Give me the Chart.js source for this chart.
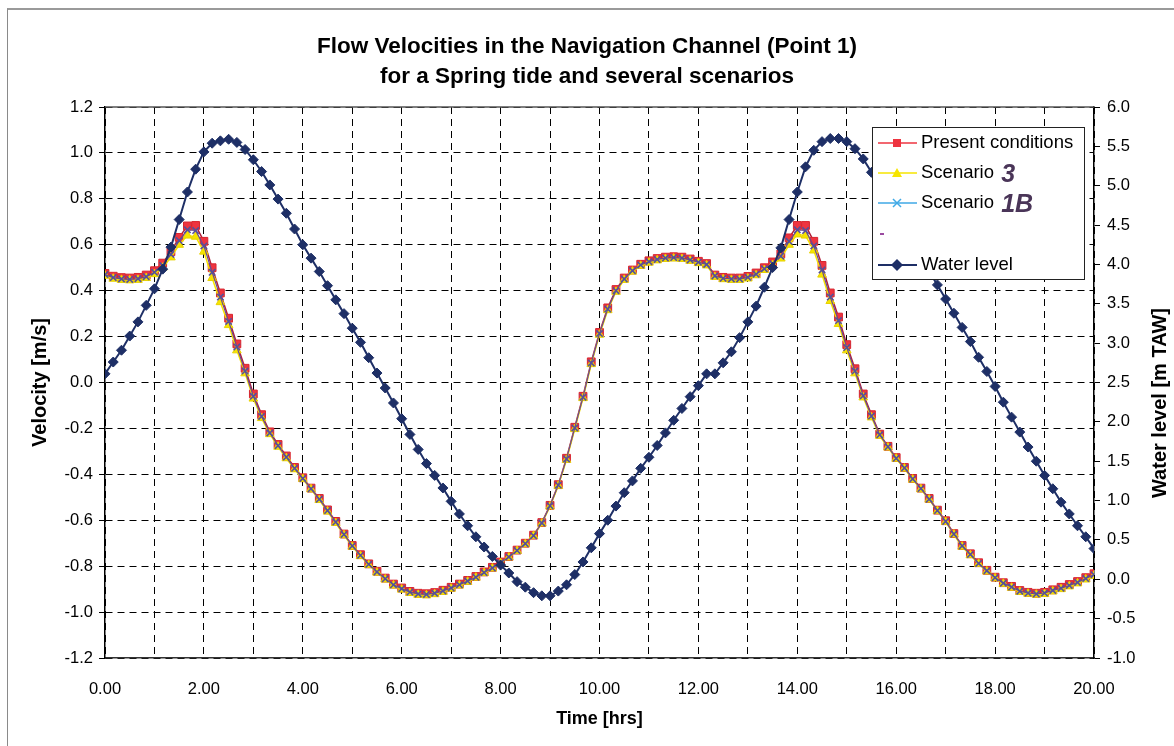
<!DOCTYPE html>
<html>
<head>
<meta charset="utf-8">
<script src="https://cdn.jsdelivr.net/npm/chart.js@4.4.1/dist/chart.umd.min.js"></script>
<style>
  html, body { margin: 0; padding: 0; background: #fff; overflow: hidden; }
  #wrap { position: relative; width: 1174px; height: 746px; }
  #frame { position: absolute; left: 7px; top: 8px; width: 1300px; height: 900px; border-left: 1px solid #8a8a8a; border-top: 2px solid #9a9a9a; pointer-events: none; }
  canvas { position: absolute; left: 0; top: 0; }
</style>
</head>
<body>
<div id="wrap">
  <canvas id="c" width="1174" height="746"></canvas>
  <div id="frame"></div>
</div>
<script>
// Sample times in minutes (10-minute interval)
const minutes = [0,10,20,30,40,50,60,70,80,90,100,110,120,130,140,150,160,170,180,190,
200,210,220,230,240,250,260,270,280,290,300,310,320,330,340,350,360,370,380,390,
400,410,420,430,440,450,460,470,480,490,500,510,520,530,540,550,560,570,580,590,
600,610,620,630,640,650,660,670,680,690,700,710,720,730,740,750,760,770,780,790,
800,810,820,830,840,850,860,870,880,890,900,910,920,930,940,950,960,970,980,990,
1000,1010,1020,1030,1040,1050,1060,1070,1080,1090,1100,1110,1120,1130,1140,1150,1160,1170,1180,1190,
1200];

// Velocity [m/s] - Present conditions
const presentConditions = [
0.475,0.463,0.457,0.455,0.458,0.468,0.487,0.52,0.57,0.632,
0.682,0.684,0.615,0.50,0.39,0.28,0.168,0.062,-0.05,-0.14,
-0.215,-0.27,-0.32,-0.37,-0.415,-0.46,-0.505,-0.555,-0.605,-0.66,
-0.71,-0.75,-0.79,-0.822,-0.852,-0.878,-0.895,-0.91,-0.918,-0.92,
-0.915,-0.905,-0.892,-0.878,-0.862,-0.845,-0.825,-0.805,-0.782,-0.758,
-0.73,-0.70,-0.665,-0.61,-0.535,-0.445,-0.33,-0.195,-0.06,0.09,
0.218,0.325,0.405,0.455,0.49,0.515,0.53,0.54,0.546,0.548,
0.546,0.538,0.528,0.518,0.468,0.458,0.455,0.455,0.462,0.477,
0.50,0.525,0.56,0.63,0.684,0.684,0.615,0.51,0.39,0.285,
0.165,0.06,-0.05,-0.14,-0.225,-0.278,-0.327,-0.37,-0.418,-0.46,
-0.505,-0.556,-0.602,-0.658,-0.71,-0.746,-0.785,-0.818,-0.848,-0.872,
-0.888,-0.906,-0.914,-0.918,-0.914,-0.903,-0.892,-0.88,-0.867,-0.85,
-0.833];

// Velocity [m/s] - Scenario 3
const scenario3 = [
0.465,0.452,0.447,0.445,0.447,0.455,0.472,0.50,0.545,0.60,
0.64,0.635,0.57,0.455,0.35,0.25,0.14,0.04,-0.07,-0.155,
-0.225,-0.28,-0.33,-0.378,-0.42,-0.465,-0.512,-0.562,-0.612,-0.665,
-0.715,-0.756,-0.795,-0.828,-0.858,-0.884,-0.902,-0.917,-0.925,-0.927,
-0.922,-0.912,-0.898,-0.884,-0.868,-0.85,-0.83,-0.81,-0.787,-0.762,
-0.734,-0.704,-0.668,-0.614,-0.54,-0.45,-0.337,-0.203,-0.068,0.08,
0.208,0.315,0.395,0.447,0.483,0.508,0.522,0.532,0.538,0.54,
0.538,0.53,0.52,0.51,0.46,0.45,0.447,0.447,0.453,0.467,
0.49,0.512,0.54,0.6,0.645,0.64,0.575,0.47,0.355,0.255,
0.14,0.04,-0.065,-0.152,-0.232,-0.283,-0.332,-0.375,-0.423,-0.465,
-0.51,-0.56,-0.607,-0.662,-0.715,-0.752,-0.79,-0.823,-0.853,-0.877,
-0.894,-0.912,-0.92,-0.924,-0.921,-0.91,-0.9,-0.888,-0.875,-0.858,
-0.842];

// Velocity [m/s] - Scenario 1B
const scenario1B = [
0.47,0.457,0.451,0.449,0.452,0.461,0.48,0.51,0.558,0.618,
0.665,0.662,0.595,0.48,0.372,0.266,0.155,0.05,-0.06,-0.148,
-0.22,-0.275,-0.325,-0.374,-0.418,-0.463,-0.508,-0.558,-0.608,-0.662,
-0.712,-0.753,-0.792,-0.825,-0.855,-0.881,-0.898,-0.913,-0.921,-0.923,
-0.918,-0.908,-0.895,-0.881,-0.865,-0.848,-0.828,-0.808,-0.785,-0.76,
-0.732,-0.702,-0.667,-0.612,-0.537,-0.447,-0.333,-0.198,-0.064,0.085,
0.213,0.32,0.4,0.451,0.487,0.512,0.526,0.536,0.542,0.544,
0.542,0.534,0.524,0.514,0.464,0.454,0.451,0.451,0.458,0.472,
0.495,0.518,0.55,0.615,0.665,0.662,0.595,0.49,0.372,0.27,
0.152,0.05,-0.058,-0.146,-0.228,-0.28,-0.33,-0.372,-0.42,-0.462,
-0.508,-0.558,-0.605,-0.66,-0.712,-0.749,-0.788,-0.82,-0.85,-0.874,
-0.891,-0.909,-0.917,-0.921,-0.917,-0.906,-0.896,-0.884,-0.871,-0.854,
-0.837];

// Water level [m TAW]
const waterLevel = [
2.61,2.76,2.91,3.09,3.27,3.48,3.69,3.94,4.22,4.57,
4.92,5.21,5.43,5.54,5.57,5.59,5.55,5.46,5.33,5.18,
5.01,4.83,4.65,4.45,4.25,4.08,3.91,3.73,3.55,3.375,
3.19,3.01,2.815,2.62,2.43,2.24,2.04,1.84,1.65,1.47,
1.32,1.16,0.99,0.83,0.68,0.54,0.41,0.29,0.18,0.08,
-0.03,-0.10,-0.17,-0.21,-0.21,-0.15,-0.07,0.06,0.22,0.40,
0.58,0.75,0.93,1.10,1.25,1.41,1.55,1.70,1.86,2.02,
2.17,2.32,2.46,2.61,2.61,2.75,2.89,3.07,3.27,3.47,
3.71,3.96,4.21,4.57,4.92,5.24,5.45,5.56,5.60,5.60,
5.56,5.47,5.34,5.17,4.99,4.81,4.62,4.43,4.25,4.08,
3.91,3.74,3.56,3.38,3.20,3.02,2.82,2.64,2.45,2.25,
2.06,1.87,1.68,1.50,1.32,1.15,0.98,0.83,0.68,0.54,
0.39];

const titleLines = ['Flow Velocities in the Navigation Channel (Point 1)', 'for a Spring tide and several scenarios'];
const xTitle = 'Time [hrs]';
const yTitle = 'Velocity [m/s]';
const y1Title = 'Water level [m TAW]';
const seriesNames = ['Present conditions', 'Scenario', 'Scenario', 'Water level'];
const handNotes = ['', '3', '1B', ''];

const FONT = "'Liberation Sans', Arial, sans-serif";
const hrs = minutes.map(m => m / 60);
const pts = arr => arr.map((v, i) => ({x: hrs[i], y: v}));

const COL = {
  red: '#EE3440', redB: '#D8262F',
  yel: '#F6E500', yelB: '#E8D200',
  blue: '#3FA9E6', cross: '#56509A',
  navy: '#1E2F66'
};

const legendPlugin = {
  id: 'customLegend',
  afterDraw(chart) {
    const ctx = chart.ctx;
    const bx = 872, by = 127, bw = 212, bh = 152;
    ctx.save();
    ctx.fillStyle = '#fff';
    ctx.fillRect(bx, by, bw, bh);
    ctx.strokeStyle = '#222';
    ctx.lineWidth = 1;
    ctx.strokeRect(bx + 0.5, by + 0.5, bw, bh);
    const rows = [
      {y: 143, name: seriesNames[0], note: handNotes[0], line: COL.red, type: 'rect'},
      {y: 173, name: seriesNames[1], note: handNotes[1], line: COL.yel, type: 'tri'},
      {y: 203, name: seriesNames[2], note: handNotes[2], line: COL.blue, type: 'cross'},
      {y: 265, name: seriesNames[3], note: handNotes[3], line: COL.navy, type: 'dia'}
    ];
    const x0 = 878, x1 = 917, xm = 897;
    rows.forEach(r => {
      ctx.strokeStyle = r.line;
      ctx.lineWidth = r.type === 'dia' ? 2 : 1.5;
      ctx.beginPath(); ctx.moveTo(x0, r.y); ctx.lineTo(x1, r.y); ctx.stroke();
      ctx.beginPath();
      if (r.type === 'rect') {
        ctx.fillStyle = COL.red; ctx.fillRect(xm - 4, r.y - 4, 8, 8);
      } else if (r.type === 'tri') {
        ctx.fillStyle = COL.yel; ctx.moveTo(xm, r.y - 5); ctx.lineTo(xm + 5, r.y + 4); ctx.lineTo(xm - 5, r.y + 4); ctx.closePath(); ctx.fill();
      } else if (r.type === 'cross') {
        ctx.strokeStyle = COL.blue; ctx.lineWidth = 1.5;
        ctx.moveTo(xm - 4, r.y - 4); ctx.lineTo(xm + 4, r.y + 4); ctx.moveTo(xm + 4, r.y - 4); ctx.lineTo(xm - 4, r.y + 4); ctx.stroke();
      } else {
        ctx.fillStyle = COL.navy; ctx.moveTo(xm, r.y - 6); ctx.lineTo(xm + 6, r.y); ctx.lineTo(xm, r.y + 6); ctx.lineTo(xm - 6, r.y); ctx.closePath(); ctx.fill();
      }
      ctx.fillStyle = '#000';
      ctx.font = '18.5px ' + FONT;
      ctx.textBaseline = 'middle';
      ctx.textAlign = 'left';
      ctx.fillText(r.name, 921, r.y);
      if (r.note) {
        const w = ctx.measureText(r.name + ' ').width;
        ctx.fillStyle = '#4A3558';
        ctx.font = 'italic bold 25px ' + FONT;
        ctx.fillText(r.note, 921 + w + 2, r.y + 2);
      }
    });
    // small mark of the empty 4th legend entry
    ctx.fillStyle = '#9a4aa0';
    ctx.fillRect(880, 233, 4, 2);
    ctx.restore();
  }
};

const framePlugin = {
  id: 'plotFrame',
  afterDraw(chart) {
    const {ctx, chartArea: a} = chart;
    ctx.save();
    ctx.strokeStyle = '#555';
    ctx.lineWidth = 1.5;
    ctx.beginPath(); ctx.moveTo(a.left, a.top); ctx.lineTo(a.right, a.top); ctx.stroke();
    // secondary axis title (rotated like the primary one)
    ctx.fillStyle = '#000';
    ctx.font = 'bold 20px ' + FONT;
    ctx.textAlign = 'center';
    ctx.textBaseline = 'middle';
    ctx.translate(1160, 403);
    ctx.rotate(-Math.PI / 2);
    ctx.fillText(y1Title, 0, 0);
    ctx.restore();
  }
};

new Chart(document.getElementById('c'), {
  type: 'line',
  data: {
    datasets: [
      {label: seriesNames[3], data: pts(waterLevel), yAxisID: 'y1', borderColor: COL.navy, backgroundColor: COL.navy,
       borderWidth: 2, pointStyle: 'rectRot', pointRadius: 5, pointBackgroundColor: COL.navy, pointBorderColor: COL.navy, pointBorderWidth: 1, tension: 0},
      {label: seriesNames[2] + ' ' + handNotes[2], data: pts(scenario1B), yAxisID: 'y', borderColor: '#6A4A8E', backgroundColor: COL.blue,
       borderWidth: 1.2, pointStyle: 'crossRot', pointRadius: 4.5, pointBorderColor: COL.cross, pointBorderWidth: 1.6, tension: 0},
      {label: seriesNames[1] + ' ' + handNotes[1], data: pts(scenario3), yAxisID: 'y', borderColor: COL.yel, backgroundColor: COL.yel,
       borderWidth: 1.5, pointStyle: 'triangle', pointRadius: 5, pointBackgroundColor: COL.yel, pointBorderColor: COL.yelB, pointBorderWidth: 1, tension: 0},
      {label: seriesNames[0], data: pts(presentConditions), yAxisID: 'y', borderColor: '#B0203A', backgroundColor: COL.red,
       borderWidth: 1.5, pointStyle: 'rect', pointRadius: 5.5, pointBackgroundColor: COL.red, pointBorderColor: COL.redB, pointBorderWidth: 1, tension: 0}
    ]
  },
  options: {
    responsive: false,
    animation: false,
    devicePixelRatio: 1,
    layout: {padding: 0},
    plugins: {
      legend: {display: false},
      tooltip: {enabled: false},
      title: {
        display: true,
        text: titleLines,
        color: '#000',
        font: {family: FONT, size: 22.5, weight: 'bold', lineHeight: 1.3},
        padding: {top: 32.5, bottom: 16}
      }
    },
    scales: {
      x: {
        type: 'linear', min: 0, max: 20,
        afterFit: s => { s.height = 88; },
        ticks: {stepSize: 1, autoSkip: false, maxRotation: 0, color: '#000', padding: 22,
          font: {family: FONT, size: 16.5},
          callback: v => (Math.round(v) % 2 === 0 ? Number(v).toFixed(2) : '')},
        grid: {color: '#000', lineWidth: 1, drawTicks: false},
        border: {display: true, color: '#333', width: 1.5, dash: [7, 5]},
        title: {display: true, text: xTitle, color: '#000', font: {family: FONT, size: 18, weight: 'bold'}, padding: {top: 0, bottom: 16}}
      },
      y: {
        type: 'linear', position: 'left', min: -1.2, max: 1.2,
        afterFit: s => { s.width = 105; },
        ticks: {stepSize: 0.2, color: '#000', padding: 6, font: {family: FONT, size: 16.5},
          callback: v => Number(v).toFixed(1)},
        grid: {color: '#000', lineWidth: 1, drawTicks: true, tickLength: 6, tickColor: '#000'},
        border: {display: true, color: '#000', width: 1.5, dash: [7, 5]},
        title: {display: true, text: yTitle, color: '#000', font: {family: FONT, size: 20, weight: 'bold'}, padding: {top: 28, bottom: 0}}
      },
      y1: {
        type: 'linear', position: 'right', min: -1, max: 6,
        afterFit: s => { s.width = 80; },
        ticks: {stepSize: 0.5, color: '#000', padding: 7, font: {family: FONT, size: 16.5},
          callback: v => Number(v).toFixed(1)},
        grid: {drawOnChartArea: false, drawTicks: true, tickLength: 6, tickColor: '#000', color: '#000'},
        border: {display: true, color: '#000', width: 1.5}
      }
    }
  },
  plugins: [framePlugin, legendPlugin]
});
</script>
</body>
</html>
